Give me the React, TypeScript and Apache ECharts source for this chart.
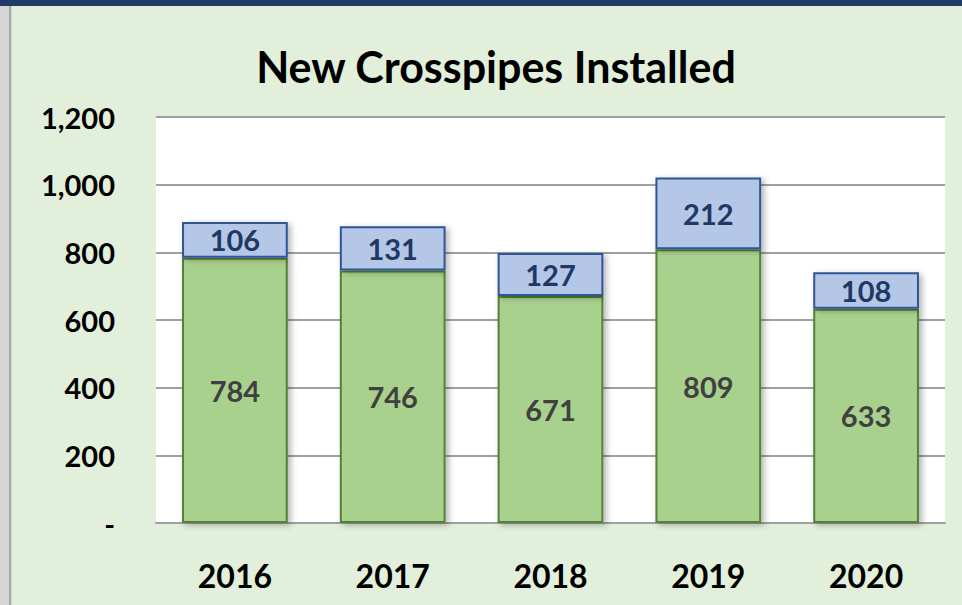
import React, { useEffect, useRef } from "react";
import * as echarts from "echarts";

const years = ["2016", "2017", "2018", "2019", "2020"];
const baseValues = [784, 746, 671, 809, 633];
const topValues = [106, 131, 127, 212, 108];

export default function App() {
  const ref = useRef<HTMLDivElement>(null);
  useEffect(() => {
    document.body.style.margin = "0";
    const chart = echarts.init(ref.current!, null, { renderer: "svg" });
    const font = "Lato, 'Open Sans', sans-serif";
    chart.setOption({
      animation: false,
      backgroundColor: "#E2EFDA",
      title: {
        text: "New Crosspipes Installed",
        left: 491,
        top: 40,
        textAlign: "center",
        textStyle: { fontFamily: font, fontSize: 43, fontWeight: "bold", color: "#000" },
      },
      graphic: [
        { type: "rect", shape: { x: 0, y: 0, width: 962, height: 6 }, style: { fill: "#1F3B66" } },
        { type: "rect", shape: { x: 0, y: 6, width: 12, height: 599 }, style: { fill: "#D6D6D6" } },
        { type: "rect", shape: { x: 9, y: 6, width: 2, height: 599 }, style: { fill: "#A8A8A8" } },
        { type: "rect", shape: { x: 156, y: 117, width: 789, height: 406 }, style: { fill: "#FFFFFF" }, z: -1 },
      ],
      grid: { left: 156, right: 17, top: 117, bottom: 82, containLabel: false },
      xAxis: {
        type: "category",
        data: years,
        axisLine: { show: true, lineStyle: { color: "#A0A0A0", width: 2 } },
        axisTick: { show: false },
        axisLabel: { fontFamily: font, fontSize: 32, fontWeight: "bold", color: "#000", margin: 36 },
      },
      yAxis: {
        type: "value",
        min: 0,
        max: 1200,
        interval: 200,
        axisLine: { show: false },
        axisTick: { show: false },
        splitLine: { lineStyle: { color: "#A0A0A0", width: 2 } },
        axisLabel: {
          fontFamily: font,
          fontSize: 29,
          fontWeight: "bold",
          color: "#000",
          margin: 41,
          formatter: (v: number) => (v === 0 ? "-" : v.toLocaleString("en-US")),
        },
      },
      series: [
        {
          type: "bar",
          stack: "t",
          data: baseValues,
          barWidth: "67%",
          itemStyle: {
            color: "#A9D18E",
            borderColor: "#538135",
            borderWidth: 2,
            shadowColor: "rgba(0,0,0,0.3)",
            shadowBlur: 6,
            shadowOffsetX: 3,
            shadowOffsetY: 2,
          },
          label: {
            show: true,
            position: "inside",
            fontFamily: font,
            fontSize: 29,
            fontWeight: "bold",
            color: "#404040",
          },
        },
        {
          type: "bar",
          stack: "t",
          data: topValues,
          itemStyle: {
            color: "#B4C7E7",
            borderColor: "#2F5597",
            borderWidth: 2,
            shadowColor: "rgba(0,0,0,0.3)",
            shadowBlur: 6,
            shadowOffsetX: 3,
            shadowOffsetY: 2,
          },
          label: {
            show: true,
            position: "inside",
            fontFamily: font,
            fontSize: 29,
            fontWeight: "bold",
            color: "#1F3864",
          },
        },
      ],
    });
    return () => chart.dispose();
  }, []);
  return <div ref={ref} style={{ position: "absolute", left: 0, top: 0, width: 962, height: 605 }} />;
}
